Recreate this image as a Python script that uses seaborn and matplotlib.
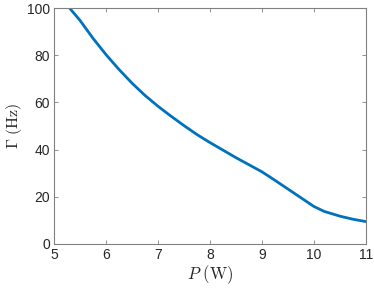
import numpy as np
import pandas as pd
import seaborn as sns
import matplotlib
matplotlib.use("Agg")
import matplotlib.pyplot as plt

# power (W) and linewidth Gamma (Hz)
power = [5.3, 5.5, 5.75, 6.0, 6.25, 6.5, 6.75, 7.0, 7.25, 7.5, 7.75, 8.0, 8.25,
         8.5, 8.75, 9.0, 9.25, 9.5, 9.75, 10.0, 10.2, 10.5, 10.75, 11.0]
gamma = [100, 94.8, 87.2, 80.3, 74.0, 68.2, 63.0, 58.4, 54.2, 50.2, 46.4, 43.0,
         39.8, 36.6, 33.6, 30.6, 27.0, 23.3, 19.6, 15.9, 13.8, 11.8, 10.5, 9.5]

df = pd.DataFrame({"P": power, "Gamma": gamma})

sns.set_style("ticks")
plt.rcParams["font.family"] = ["Liberation Sans", "DejaVu Sans"]
plt.rcParams["mathtext.fontset"] = "cm"

fig = plt.figure(figsize=(3.74, 2.88), dpi=100)
ax = fig.add_axes([0.1444, 0.1528, 0.834, 0.819])

sns.lineplot(data=df, x="P", y="Gamma", ax=ax, color="#0072BD", linewidth=2)

ax.set_xlim(5, 11)
ax.set_ylim(0, 100)
ax.set_xticks(range(5, 12))
ax.set_yticks(range(0, 101, 20))

axcol = "#262626"
for s in ax.spines.values():
    s.set_visible(True)
    s.set_color("#808080")
    s.set_linewidth(0.8)
ax.tick_params(direction="in", top=True, right=True, length=3, width=0.6,
               colors="#808080", labelcolor=axcol, labelsize=10, pad=3)

ax.set_xlabel(r"$P\ \mathrm{(W)}$", fontsize=12, color=axcol, labelpad=1)
ax.set_ylabel(r"$\Gamma\ \mathrm{(Hz)}$", fontsize=11.5, color=axcol, labelpad=2)

fig.savefig("out.png", dpi=100)
